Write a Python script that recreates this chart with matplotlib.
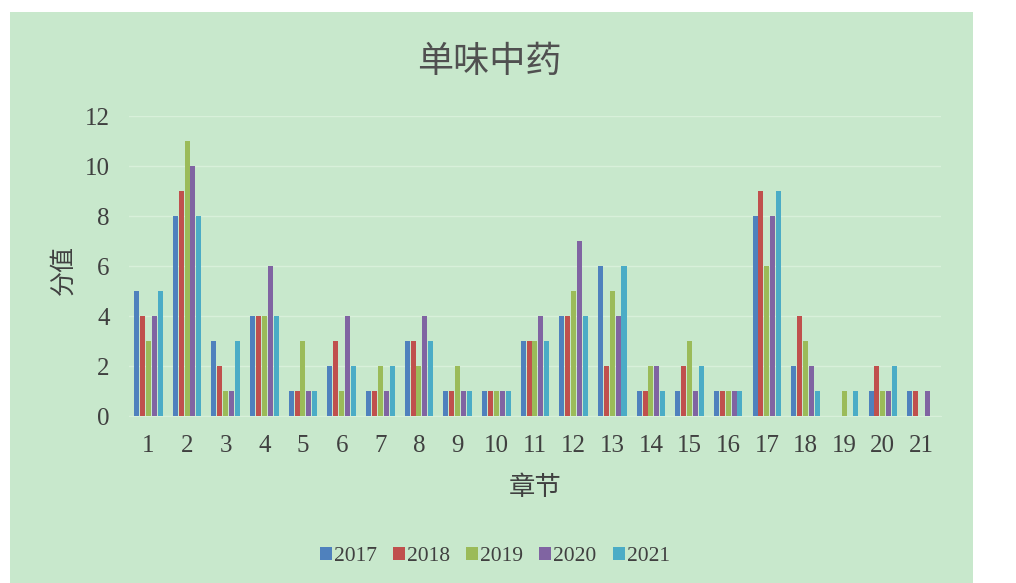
import numpy as np
import matplotlib.pyplot as plt
from matplotlib.patches import Rectangle

chapters = [str(i) for i in range(1, 22)]
years = ['2017', '2018', '2019', '2020', '2021']

s2017 = [5, 8, 3, 4, 1, 2, 1, 3, 1, 1, 3, 4, 6, 1, 1, 1, 8, 2, 0, 1, 1]
s2018 = [4, 9, 2, 4, 1, 3, 1, 3, 1, 1, 3, 4, 2, 1, 2, 1, 9, 4, 0, 2, 1]
s2019 = [3, 11, 1, 4, 3, 1, 2, 2, 2, 1, 3, 5, 5, 2, 3, 1, 6, 3, 1, 1, 0]
s2020 = [4, 10, 1, 6, 1, 4, 1, 4, 1, 1, 4, 7, 4, 2, 1, 1, 8, 2, 0, 1, 1]
s2021 = [5, 8, 3, 4, 1, 2, 2, 3, 1, 1, 3, 4, 6, 1, 2, 1, 9, 1, 1, 2, 0]

colors = ['#4F81BD', '#C0504D', '#9BBB59', '#8064A2', '#4BACC6']
bg = '#C8E8CC'
txt = '#404040'
cjk = ['Noto Sans CJK SC', 'DejaVu Sans']
num = ['Liberation Serif', 'DejaVu Serif']

fig = plt.figure(figsize=(10.16, 5.83), dpi=100)
fig.patch.set_facecolor('white')
fig.patches.append(Rectangle((10 / 1016, 0), 963 / 1016, 571 / 583,
                             transform=fig.transFigure, facecolor=bg,
                             edgecolor='none', zorder=-5))

ax = fig.add_axes([0.127, 0.2864, 0.799, 0.5146])
ax.set_facecolor('none')

x = np.arange(1, 22)
step = 0.152
width = 0.13
for i, (vals, c) in enumerate(zip([s2017, s2018, s2019, s2020, s2021], colors)):
    ax.bar(x + (i - 2) * step, vals, width=width, color=c, label=years[i], zorder=3)

ax.set_xlim(0.5, 21.5)
ax.set_ylim(0, 12)
ax.set_yticks(range(0, 13, 2))
ax.set_xticks(x)
ax.set_xticklabels(chapters)
ax.grid(axis='y', color='#D8F0DA', linewidth=1, zorder=0)
for side in ['top', 'right', 'left']:
    ax.spines[side].set_visible(False)
ax.spines['bottom'].set_color('#D8F0DA')
ax.tick_params(axis='y', length=0, labelsize=18, colors=txt, pad=14)
ax.tick_params(axis='x', length=0, labelsize=18, colors=txt, pad=14)
for lab in ax.get_xticklabels() + ax.get_yticklabels():
    lab.set_family(num)

fig.text(0.482, 0.893, '单味中药', ha='center', va='center', fontsize=26,
         color='#505050', family=cjk, fontweight='light')
fig.text(0.063, 0.537, '分值', ha='center', va='center', rotation=90,
         fontsize=18, color=txt, family=cjk)
fig.text(0.527, 0.164, '章节', ha='center', va='center', fontsize=19,
         color=txt, family=cjk)

leg = fig.legend(loc='center', bbox_to_anchor=(0.487, 0.046), ncol=5,
                 frameon=False, handlelength=0.55, handleheight=0.55,
                 handletextpad=0.1, columnspacing=0.75,
                 prop={'family': num, 'size': 15.5})
for t in leg.get_texts():
    t.set_color(txt)

fig.savefig('out.png', dpi=100)
